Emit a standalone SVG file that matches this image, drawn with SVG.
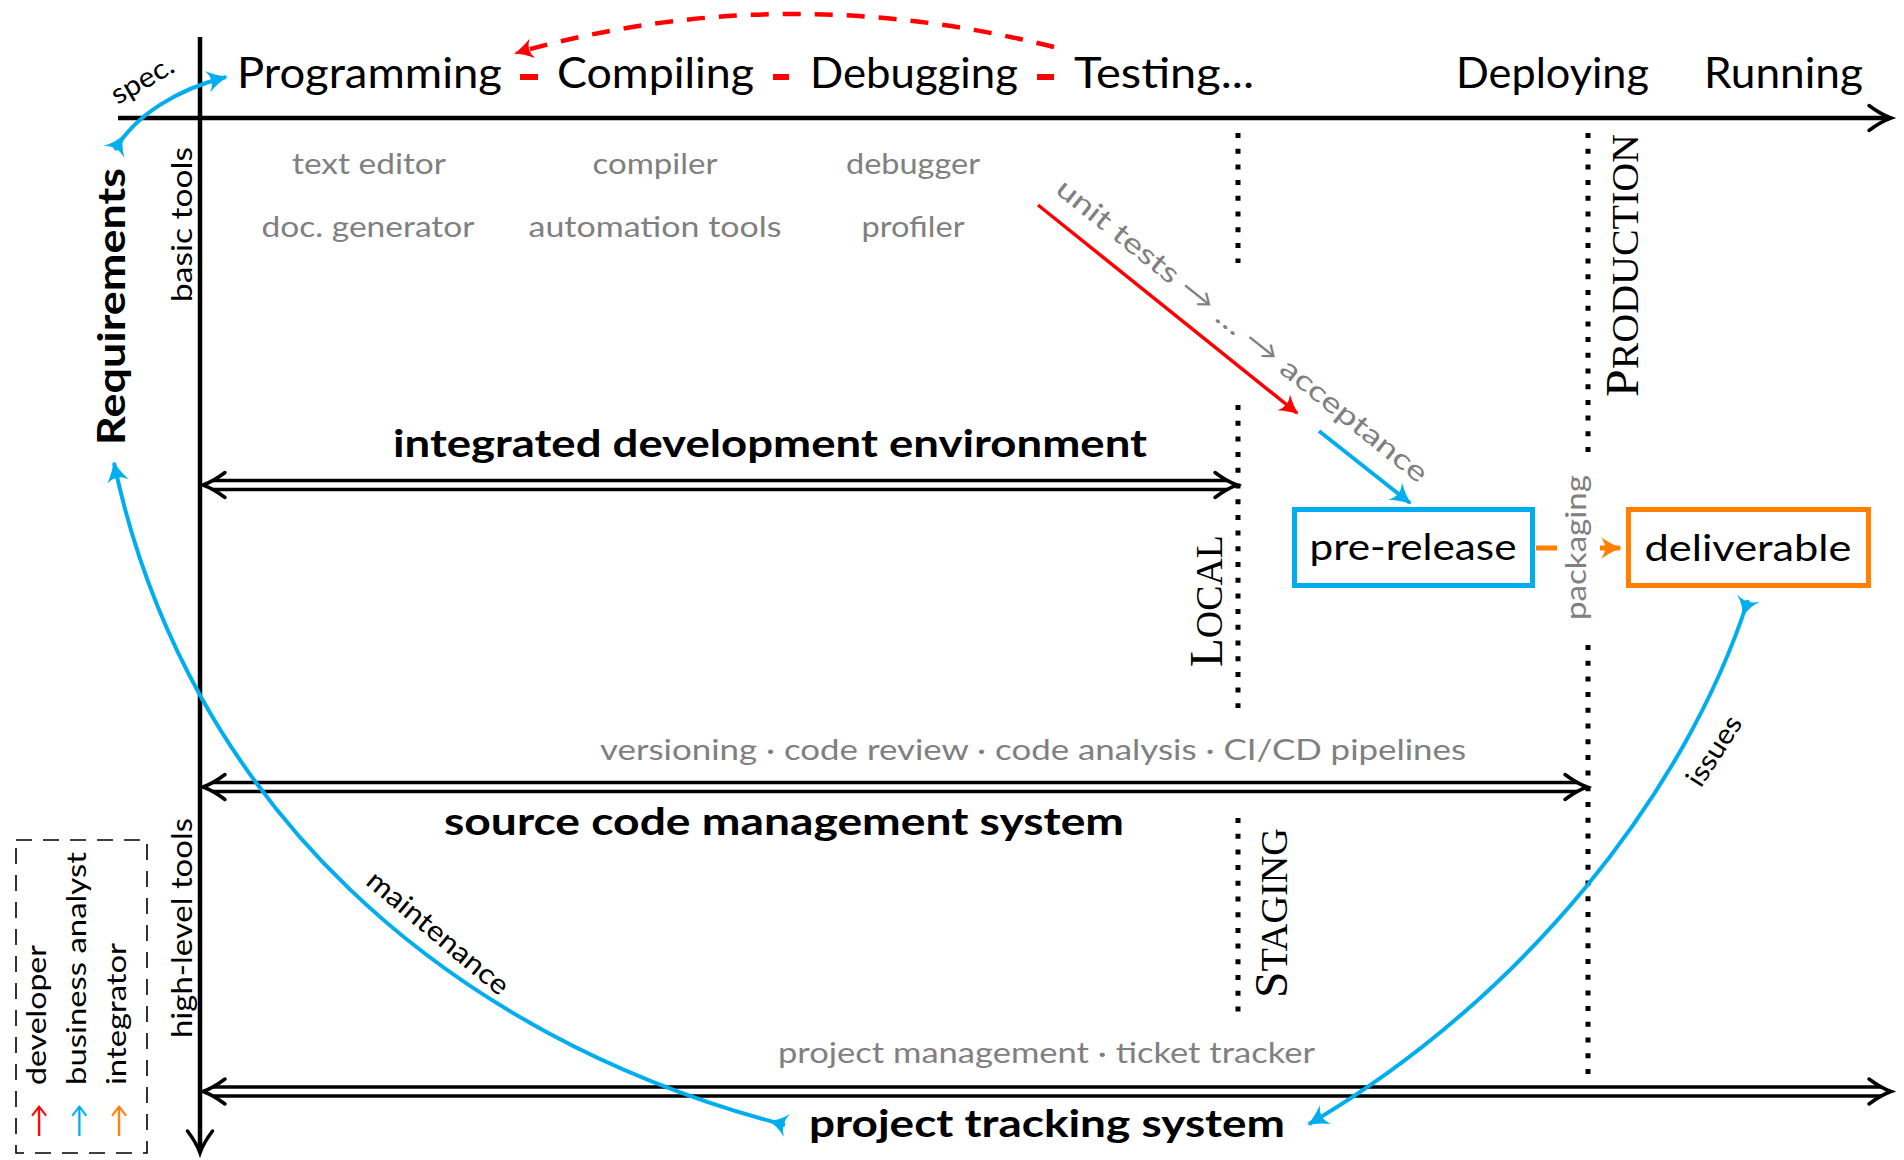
<svg xmlns="http://www.w3.org/2000/svg" width="1904" height="1160" viewBox="0 0 1904 1160">
  <defs>
    <style>
      text { font-family: Lato, "Liberation Sans", sans-serif; }
      .stage { font-size: 42px; fill: #000; }
      .tool { font-size: 28px; fill: #808080; }
      .sys { font-size: 38px; font-weight: 700; fill: #000; }
      .side { font-size: 28px; fill: #000; }
      .env { font-family: "Liberation Serif", serif; fill: #000; }
      .axis { stroke: #000; stroke-width: 4.5; fill: none; }
      .rail { stroke: #000; stroke-width: 3.4; fill: none; }
      .head { stroke: #000; stroke-width: 3.5; fill: none; stroke-linecap: round; }
      .dots { stroke: #000; stroke-width: 5; stroke-dasharray: 5 10.7; fill: none; }
      .dev { stroke: #ff0000; fill: none; }
      .ba { stroke: #00aeef; fill: none; stroke-width: 4; }
      .int { stroke: #ff8000; fill: none; stroke-width: 5; }
      .cue { font-size: 28px; fill: #000; }
      .legend { font-size: 27px; fill: #000; }
    </style>
    <!-- open "to" style head, tip at origin pointing +x -->
    <path id="to" d="M-22,-12.5 Q-10,-3.5 0,0 Q-10,3.5 -22,12.5"/>
    <marker id="tipRed" markerUnits="userSpaceOnUse" orient="auto" overflow="visible">
      <path d="M2,0 Q-7,-3 -17,-10 Q-10,0 -17,10 Q-7,3 2,0Z" fill="#ff0000"/>
    </marker>
    <marker id="tipBlue" markerUnits="userSpaceOnUse" orient="auto" overflow="visible">
      <path d="M2,0 Q-8,-3 -19,-11 Q-11,0 -19,11 Q-8,3 2,0Z" fill="#00aeef"/>
    </marker>
    <marker id="tipOrange" markerUnits="userSpaceOnUse" orient="auto" overflow="visible">
      <path d="M2,0 Q-8,-3 -19,-11 Q-11,0 -19,11 Q-8,3 2,0Z" fill="#ff8000"/>
    </marker>
    <marker id="tailBlue" markerUnits="userSpaceOnUse" orient="auto" overflow="visible">
      <path d="M18,0 Q7,-2.5 -2,-12 Q5,0 -2,12 Q7,2.5 18,0Z" fill="#00aeef"/>
    </marker>
  </defs>

  <rect x="0" y="0" width="1904" height="1160" fill="#fff"/>

  <!-- time axis and tool axis -->
  <g id="axes">
    <line class="axis" x1="118" y1="118" x2="1889" y2="118"/>
    <use href="#to" class="head" transform="translate(1891,118)"/>
    <line class="axis" x1="200" y1="37" x2="200" y2="1151"/>
    <use href="#to" class="head" transform="translate(200,1153) rotate(90)"/>
  </g>

  <!-- lifecycle stages along the top -->
  <g id="stages">
    <text class="stage" x="237" y="88" textLength="265" lengthAdjust="spacingAndGlyphs">Programming</text>
    <text class="stage" x="557" y="88" textLength="197" lengthAdjust="spacingAndGlyphs">Compiling</text>
    <text class="stage" x="810" y="88" textLength="208" lengthAdjust="spacingAndGlyphs">Debugging</text>
    <text class="stage" x="1074" y="88" textLength="180" lengthAdjust="spacingAndGlyphs">Testing...</text>
    <text class="stage" x="1456" y="88" textLength="193" lengthAdjust="spacingAndGlyphs">Deploying</text>
    <text class="stage" x="1704" y="88" textLength="159" lengthAdjust="spacingAndGlyphs">Running</text>
  </g>

  <!-- axis captions -->
  <g id="requirements">
    <text class="sys" font-size="42" transform="translate(125,445) rotate(-90)" textLength="277" lengthAdjust="spacingAndGlyphs">Requirements</text>
  </g>
  <g id="basic-tools">
    <text class="side" transform="translate(192,302) rotate(-90)" textLength="155" lengthAdjust="spacingAndGlyphs">basic tools</text>
  </g>
  <g id="high-level-tools">
    <text class="side" transform="translate(192,1038) rotate(-90)" textLength="220" lengthAdjust="spacingAndGlyphs">high-level tools</text>
  </g>

  <!-- basic tools per stage -->
  <g id="tools" text-anchor="middle">
    <text class="tool" x="369" y="174" textLength="154" lengthAdjust="spacingAndGlyphs">text editor</text>
    <text class="tool" x="368" y="237" textLength="213" lengthAdjust="spacingAndGlyphs">doc. generator</text>
    <text class="tool" x="655" y="174" textLength="125" lengthAdjust="spacingAndGlyphs">compiler</text>
    <text class="tool" x="655" y="237" textLength="253" lengthAdjust="spacingAndGlyphs">automation tools</text>
    <text class="tool" x="913" y="174" textLength="134" lengthAdjust="spacingAndGlyphs">debugger</text>
    <text class="tool" x="913" y="237" textLength="103" lengthAdjust="spacingAndGlyphs">profiler</text>
  </g>

  <!-- environment boundaries -->
  <g id="boundaries">
    <line class="dots" x1="1238" y1="133" x2="1238" y2="263"/>
    <line class="dots" x1="1238" y1="405" x2="1238" y2="708"/>
    <line class="dots" x1="1238" y1="818" x2="1238" y2="1014"/>
    <line class="dots" x1="1588" y1="133" x2="1588" y2="456"/>
    <line class="dots" x1="1588" y1="645" x2="1588" y2="1076"/>
    <text class="env" transform="translate(1222,667) rotate(-90)" textLength="132" lengthAdjust="spacingAndGlyphs"><tspan font-size="46">L</tspan><tspan font-size="37">OCAL</tspan></text>
    <text class="env" transform="translate(1287,998) rotate(-90)" textLength="170" lengthAdjust="spacingAndGlyphs"><tspan font-size="46">S</tspan><tspan font-size="37">TAGING</tspan></text>
    <text class="env" transform="translate(1638,397) rotate(-90)" textLength="263" lengthAdjust="spacingAndGlyphs"><tspan font-size="46">P</tspan><tspan font-size="37">RODUCTION</tspan></text>
  </g>

  <!-- integrated development environment -->
  <g id="ide">
    <text class="sys" x="393" y="457" textLength="754" lengthAdjust="spacingAndGlyphs">integrated development environment</text>
    <line class="rail" x1="213" y1="480.5" x2="1227" y2="480.5"/>
    <line class="rail" x1="213" y1="489.5" x2="1227" y2="489.5"/>
    <use href="#to" class="head" transform="translate(203,485) rotate(180)"/>
    <use href="#to" class="head" transform="translate(1237,485)"/>
  </g>

  <!-- source code management system -->
  <g id="scm">
    <text class="tool" x="600" y="760" textLength="866" lengthAdjust="spacingAndGlyphs">versioning · code review · code analysis · CI/CD pipelines</text>
    <line class="rail" x1="213" y1="782.5" x2="1577" y2="782.5"/>
    <line class="rail" x1="213" y1="791.5" x2="1577" y2="791.5"/>
    <use href="#to" class="head" transform="translate(203,787) rotate(180)"/>
    <use href="#to" class="head" transform="translate(1587,787)"/>
    <text class="sys" x="444" y="835" textLength="680" lengthAdjust="spacingAndGlyphs">source code management system</text>
  </g>

  <!-- project tracking system -->
  <g id="pts">
    <text class="tool" x="778" y="1063" textLength="537" lengthAdjust="spacingAndGlyphs">project management · ticket tracker</text>
    <line class="rail" x1="213" y1="1087" x2="1881" y2="1087"/>
    <line class="rail" x1="213" y1="1096" x2="1881" y2="1096"/>
    <use href="#to" class="head" transform="translate(203,1091.5) rotate(180)"/>
    <use href="#to" class="head" transform="translate(1891,1091.5)"/>
    <text class="sys" x="809" y="1137" textLength="476" lengthAdjust="spacingAndGlyphs">project tracking system</text>
  </g>

  <!-- artefacts -->
  <g id="pre-release">
    <rect x="1294.5" y="509.5" width="238" height="76" fill="#fff" stroke="#00aeef" stroke-width="5"/>
    <text x="1413" y="560" font-size="36" text-anchor="middle" textLength="207" lengthAdjust="spacingAndGlyphs">pre-release</text>
  </g>
  <g id="deliverable">
    <rect x="1628.5" y="509.5" width="240" height="76" fill="#fff" stroke="#ff8000" stroke-width="5"/>
    <text x="1748" y="561" font-size="36" text-anchor="middle" textLength="207" lengthAdjust="spacingAndGlyphs">deliverable</text>
  </g>

  <!-- flows between stages, artefacts and systems -->
  <g id="connectors">
    <!-- developer loop -->
    <line class="dev" stroke-width="6" x1="520" y1="77" x2="538" y2="77"/>
    <line class="dev" stroke-width="6" x1="773" y1="77" x2="789" y2="77"/>
    <line class="dev" stroke-width="6" x1="1037" y1="77" x2="1054" y2="77"/>
    <path class="dev" stroke-width="4.5" stroke-dasharray="18 14" d="M1054,47 Q780,-22 516,53" marker-end="url(#tipRed)"/>
    <line class="dev" stroke-width="3.5" x1="1038" y1="205" x2="1297" y2="413" marker-end="url(#tipRed)"/>
    <text class="tool" transform="translate(1054,192) rotate(38.7)" textLength="467" lengthAdjust="spacingAndGlyphs">unit tests → … → acceptance</text>

    <!-- business analyst flows -->
    <path class="ba" d="M115,150 C135,115 178,89 226,77" marker-start="url(#tailBlue)" marker-end="url(#tipBlue)"/>
    <text class="cue" font-size="26" text-anchor="middle" transform="translate(147,88) rotate(-30)" textLength="68" lengthAdjust="spacingAndGlyphs">spec.</text>
    <line class="ba" x1="1319" y1="431" x2="1410" y2="503" marker-end="url(#tipBlue)"/>
    <path class="ba" d="M785,1125 C446,1037 186,804 114,463" marker-start="url(#tailBlue)" marker-end="url(#tipBlue)"/>
    <text class="cue" text-anchor="middle" transform="translate(432,940) rotate(40)" textLength="176" lengthAdjust="spacingAndGlyphs">maintenance</text>
    <path class="ba" d="M1748,600 C1686,793 1523,999 1309,1124" marker-start="url(#tailBlue)" marker-end="url(#tipBlue)"/>
    <text class="cue" text-anchor="middle" transform="translate(1722,756) rotate(-57)" textLength="78" lengthAdjust="spacingAndGlyphs">issues</text>

    <!-- integrator packaging -->
    <line class="int" x1="1536" y1="548" x2="1557" y2="548"/>
    <line class="int" x1="1600" y1="548" x2="1620" y2="548" marker-end="url(#tipOrange)"/>
    <text class="tool" font-size="27" transform="translate(1586,620) rotate(-90)" textLength="145" lengthAdjust="spacingAndGlyphs">packaging</text>
  </g>

  <!-- roles -->
  <g id="legend">
    <rect x="16" y="840" width="131" height="313" fill="none" stroke="#000" stroke-width="1.6" stroke-dasharray="16 11"/>
    <text font-family="DejaVu Sans, sans-serif" font-size="27" fill="#ff0000" transform="translate(48,1138) rotate(-90)" textLength="35" lengthAdjust="spacingAndGlyphs">→</text>
    <text class="legend" transform="translate(46,1085) rotate(-90)" textLength="140" lengthAdjust="spacingAndGlyphs">developer</text>
    <text font-family="DejaVu Sans, sans-serif" font-size="27" fill="#00aeef" transform="translate(88,1138) rotate(-90)" textLength="35" lengthAdjust="spacingAndGlyphs">→</text>
    <text class="legend" transform="translate(86,1085) rotate(-90)" textLength="233" lengthAdjust="spacingAndGlyphs">business analyst</text>
    <text font-family="DejaVu Sans, sans-serif" font-size="27" fill="#ff8000" transform="translate(128,1138) rotate(-90)" textLength="35" lengthAdjust="spacingAndGlyphs">→</text>
    <text class="legend" transform="translate(126,1085) rotate(-90)" textLength="142" lengthAdjust="spacingAndGlyphs">integrator</text>
  </g>
</svg>
